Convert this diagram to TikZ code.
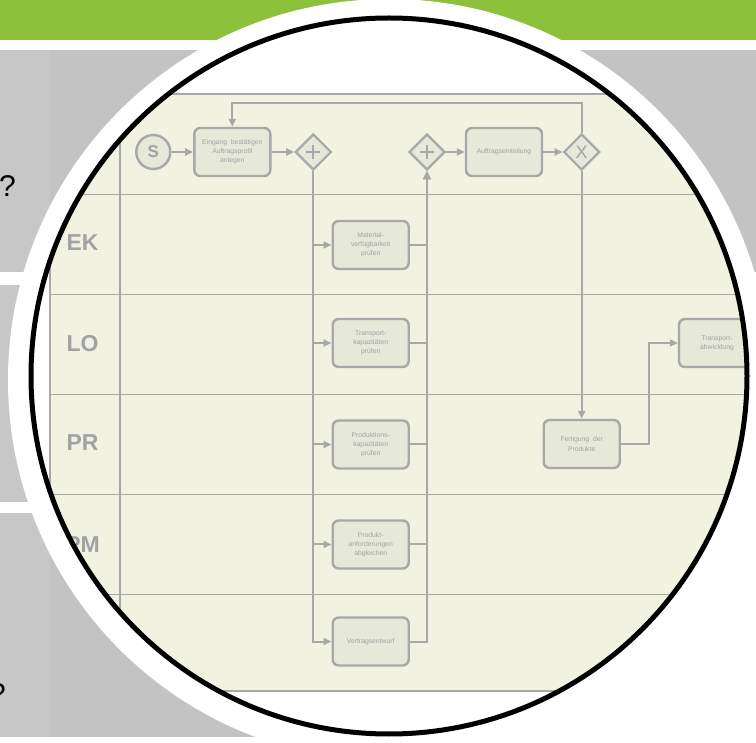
\documentclass[tikz,border=0pt]{standalone}
\usepackage{fontspec}
\setmainfont{Liberation Sans}
\usetikzlibrary{shapes.geometric,arrows.meta}
\definecolor{greenband}{HTML}{8DC13B}
\definecolor{slidegray}{HTML}{C3C3C3}
\definecolor{slidegrayl}{HTML}{C7C7C7}
\definecolor{poolfill}{HTML}{F1F2DF}
\definecolor{taskfill}{HTML}{E6E8D8}
\definecolor{lc}{HTML}{A8A8A8}
\definecolor{tc}{HTML}{A2A2A2}
\begin{document}
\begin{tikzpicture}[x=1pt,y=-1pt,
  task/.style={draw=lc, line width=2.4pt, fill=taskfill, rounded corners=6pt,
    minimum width=76pt, minimum height=48pt, inner sep=0pt, align=center,
    font=\fontsize{6.8}{9.2}\selectfont, text=tc},
  gate/.style={diamond, draw=lc, line width=2.2pt, fill=taskfill,
    minimum width=36pt, minimum height=36pt, inner sep=0pt, text=tc},
  startev/.style={circle, draw=lc, line width=2.4pt, fill=taskfill,
    minimum size=34pt, inner sep=0pt, text=tc,
    font=\bfseries\fontsize{17}{17}\selectfont},
  flow/.style={draw=lc, line width=2pt, -{Triangle[length=8pt,width=7pt]}},
  plain/.style={draw=lc, line width=2pt},
  laneline/.style={draw=lc, line width=1.4pt},
  lanelab/.style={text=tc, font=\bfseries\fontsize{23}{23}\selectfont, inner sep=0pt},
  qmark/.style={anchor=base west, inner sep=0pt, font=\fontsize{30}{30}\selectfont}
]
\useasboundingbox (0,0) rectangle (756,743);
% slide background
\fill[white] (0,0) rectangle (756,743);
\fill[greenband] (0,0) rectangle (756,40);
\fill[slidegray] (0,50) rectangle (378,272);
\fill[slidegray] (0,285) rectangle (378,502);
\fill[slidegray] (0,513) rectangle (378,737);
\fill[slidegray] (378,50) rectangle (756,272);
\fill[slidegrayl] (0,50) rectangle (50,272);
\fill[slidegrayl] (0,285) rectangle (50,502);
\fill[slidegrayl] (0,513) rectangle (50,737);
\node[qmark] (q1) at (-1.2,197) {?};
\node[qmark] (q2) at (-11,704) {?};
% magnifier halo
\fill[white] (389,380) circle (381pt);
\begin{scope}
\clip (389,376) circle (357pt);
% pool
\fill[poolfill] (50,94) rectangle (820,691);
\draw[laneline] (50,691) -- (50,94) -- (820,94);
\draw[laneline] (50,691) -- (820,691);
\foreach \yy in {194.5,294.5,394.5,494.5,594.5}
  \draw[laneline] (50,\yy) -- (820,\yy);
\draw[laneline] (120,94) -- (120,691);
\node[lanelab] (lek) at (82.5,243) {EK};
\node[lanelab] (llo) at (82.5,344) {LO};
\node[lanelab] (lpr) at (82.5,443) {PR};
\node[lanelab] (lpm) at (82.5,545) {PM};
% nodes
\node[startev] (s) at (153.3,152) {S};
\node[task] (t1) at (232.3,152) {Eingang\ \ bestätigen\\Auftragsprofil\\anlegen};
\node[gate] (g1) at (313.3,152) {};
\node[gate] (g2) at (427,152) {};
\node[task] (ae) at (504,152) {Auftragseinteilung};
\node[gate, font=\fontsize{18}{18}\selectfont] (gx) at (581.7,152) {X};
\node[task] (mat) at (370.7,245) {Material-\\verfügbarkeit\\prüfen};
\node[task] (tra) at (370.7,343) {Transport-\\kapazitäten\\prüfen};
\node[task] (pro) at (370.7,444.5) {Produktions-\\kapazitäten\\prüfen};
\node[task] (pra) at (370.7,544.5) {Produkt-\\anforderungen\\abgleichen};
\node[task] (ver) at (370.7,641.5) {Vertragsentwurf};
\node[task] (fer) at (581.7,444) {Fertigung\ \ der\\Produkte};
\node[task] (tab) at (717,343) {Transport-\\abwicklung};
% plus signs
\foreach \g in {g1,g2}{
  \draw[plain] ([xshift=-7pt]\g.center) -- ([xshift=7pt]\g.center);
  \draw[plain] ([yshift=-7pt]\g.center) -- ([yshift=7pt]\g.center);
}
% connectors
\draw[flow] (s) -- (t1);
\draw[flow] (t1) -- (g1);
\draw[flow] (g2) -- (ae);
\draw[flow] (ae) -- (gx);
\coordinate (loopr) at (581.7,103.3);
\coordinate (loopl) at (232.3,103.3);
\draw[flow] (gx.north) -- (loopr) -- (loopl) -- (t1.north);
\foreach \t in {mat,tra,pro,pra,ver}{
  \draw[flow] (g1.south) |- (\t.west);
  \draw[flow] (\t.east) -| (g2.south);
}
\draw[flow] (gx.south) -- (fer.north);
\coordinate (bend) at (649.3,444);
\draw[flow] (fer.east) -- (bend) |- (tab.west);
\end{scope}
% magnifier ring
\draw[black, line width=5pt] (389,376) circle (358pt);
\end{tikzpicture}
\end{document}
